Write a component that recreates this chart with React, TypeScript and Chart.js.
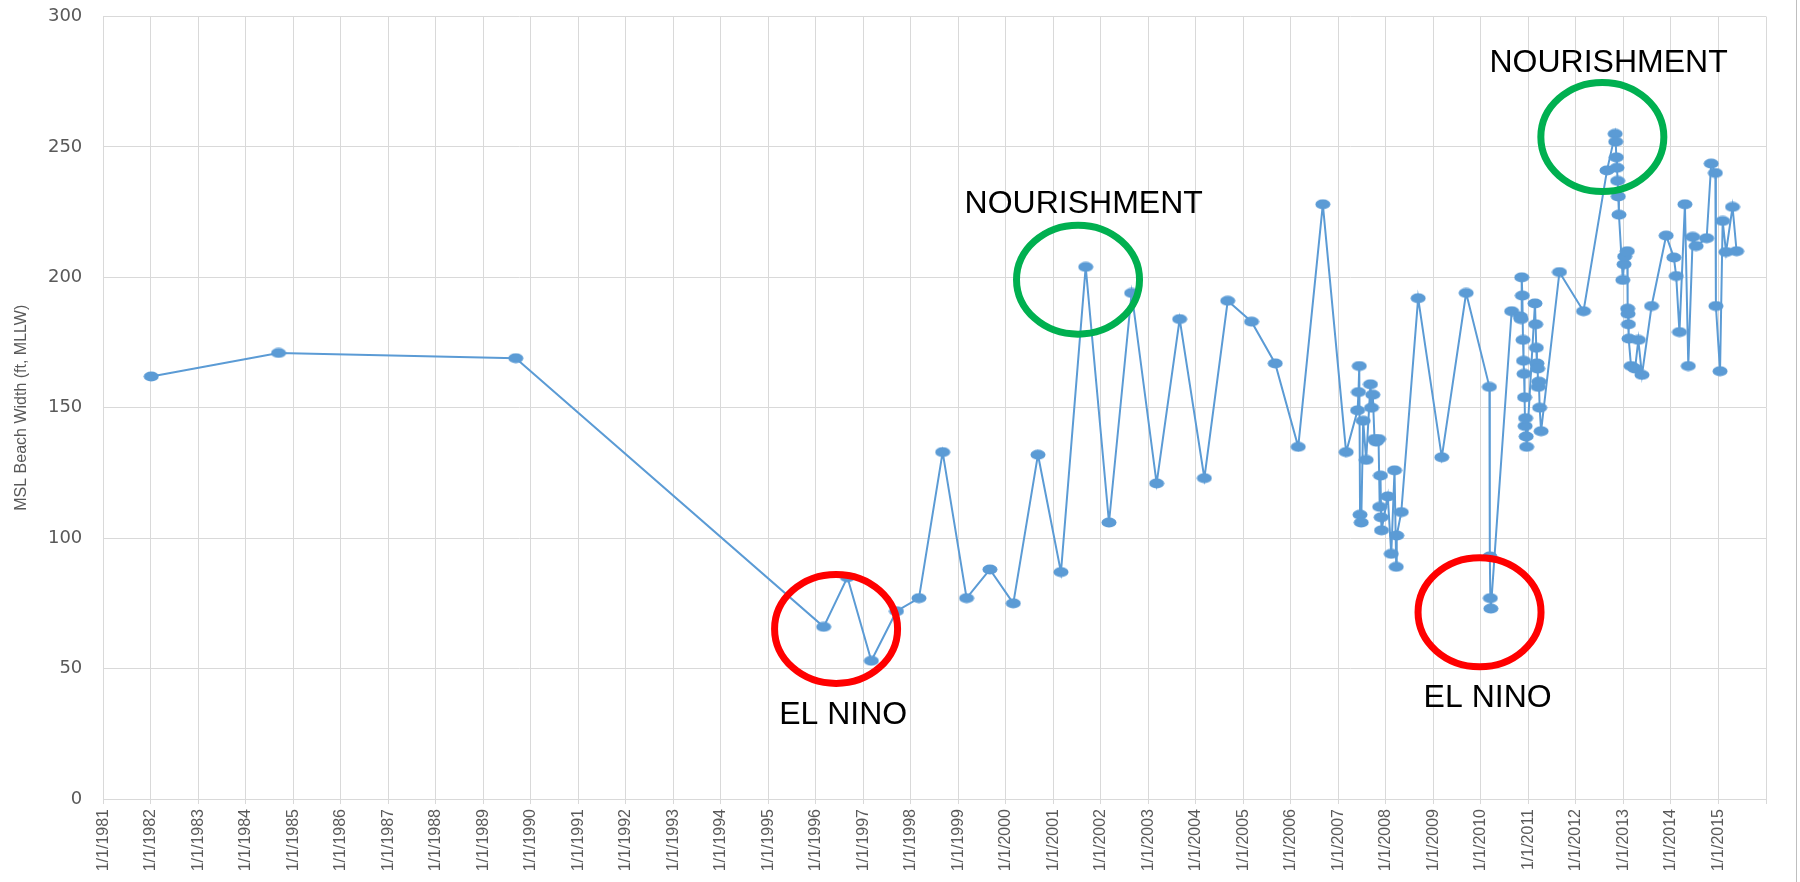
import React, { useEffect, useRef } from 'react';
import { Chart, registerables } from 'chart.js';

Chart.register(...registerables);

// ---- data ----
const surveyDates: string[] = [
  '1982-01-04', '1984-09-09', '1989-09-07',
  '1996-03-01', '1996-08-31', '1997-03-03', '1997-09-12', '1998-03-04', '1998-09-02', '1999-03-05', '1999-08-31',
  '2000-02-27', '2000-09-04', '2001-02-28', '2001-09-06', '2002-03-04', '2002-08-25', '2003-03-05', '2003-08-29',
  '2004-03-06', '2004-09-02', '2005-03-04', '2005-09-02', '2006-02-26', '2006-09-03', '2007-03-01',
  '2007-05-28', '2007-06-04', '2007-06-10', '2007-06-16', '2007-06-25', '2007-07-10', '2007-08-02', '2007-09-04',
  '2007-09-12', '2007-09-22', '2007-10-05', '2007-10-18', '2007-11-05', '2007-11-14', '2007-11-20', '2007-11-25',
  '2007-11-28', '2008-01-15', '2008-02-11', '2008-03-07', '2008-03-20', '2008-03-24', '2008-04-28',
  '2008-09-05', '2009-03-06', '2009-09-09',
  '2010-03-07', '2010-03-10', '2010-03-14', '2010-03-18', '2010-08-25',
  '2010-10-31', '2010-11-05', '2010-11-10', '2010-11-15', '2010-11-20', '2010-11-24', '2010-11-28', '2010-12-02',
  '2010-12-06', '2010-12-10', '2010-12-14', '2010-12-18', '2011-02-20', '2011-02-25', '2011-03-02', '2011-03-07',
  '2011-03-12', '2011-03-17', '2011-03-22', '2011-03-28', '2011-04-08',
  '2011-08-27', '2012-02-28', '2012-08-27',
  '2012-10-29', '2012-11-02', '2012-11-07', '2012-11-12', '2012-11-17', '2012-11-22', '2012-11-27', '2012-12-27',
  '2013-01-05', '2013-01-10', '2013-01-30', '2013-02-02', '2013-02-05', '2013-02-08', '2013-02-12', '2013-02-28',
  '2013-03-31', '2013-04-25', '2013-05-23', '2013-08-05',
  '2013-11-25', '2014-01-23', '2014-02-10', '2014-03-07', '2014-04-18', '2014-05-14', '2014-06-17', '2014-07-13',
  '2014-10-02', '2014-11-06', '2014-12-08', '2014-12-12', '2015-01-13', '2015-02-02', '2015-02-28', '2015-04-19',
  '2015-05-20',
];

const beachWidthFt: number[] = [
  162, 171, 169,
  66, 85, 53, 72, 77, 133, 77, 88,
  75, 132, 87, 204, 106, 194, 121, 184,
  123, 191, 183, 167, 135, 228, 133,
  149, 156, 166, 109, 106, 145, 130, 159,
  150, 155, 138, 137, 138, 112, 124, 108,
  103, 116, 94, 126, 89, 101, 110,
  192, 131, 194,
  158, 93, 77, 73, 187,
  185, 184, 200, 193, 176, 168, 163, 154,
  143, 146, 139, 135, 190, 182, 173, 167,
  165, 158, 160, 150, 141,
  202, 187, 241,
  255, 252, 246, 242, 237, 231, 224, 199,
  205, 208, 210, 188, 186, 182, 176.5, 166,
  165, 176, 162.6, 189,
  216, 207.6, 200.5, 179, 228, 166, 215.5, 212,
  215, 243.6, 240, 189, 164, 221.6, 209.7, 227,
  210,
];

const xFirstYear = 1981;
const xLastYear = 2016;
const yMin = 0;
const yMax = 300;
const yStep = 50;
const yAxisTitle = 'MSL Beach Width (ft, MLLW)';

// annotation marks (in data space: fractional year, width in ft)
const ellipseYears = [1996.425, 2001.518, 2009.97, 2012.555];
const ellipseValues = [65.2, 199.1, 71.6, 253.8];
const ellipseColors = ['#FF0000', '#00B050', '#FF0000', '#00B050'];
const labelTexts = ['EL NINO', 'NOURISHMENT', 'EL NINO', 'NOURISHMENT'];
const labelYears = [1996.576, 2001.637, 2010.14, 2012.686];
const labelValues = [28.8, 224.7, 35.3, 278.7];

function toYear(s: string): number {
  const [y, m, d] = s.split('-').map(Number);
  const start = Date.UTC(y, 0, 1);
  const end = Date.UTC(y + 1, 0, 1);
  return y + (Date.UTC(y, m - 1, d) - start) / (end - start);
}

function makeMarker(): HTMLCanvasElement {
  const c = document.createElement('canvas');
  c.width = 16;
  c.height = 11;
  const g = c.getContext('2d')!;
  g.fillStyle = '#5B9BD5';
  g.beginPath();
  g.ellipse(8, 5.5, 7.5, 5, 0, 0, Math.PI * 2);
  g.fill();
  return c;
}

const annotationPlugin = {
  id: 'annotationMarks',
  afterDatasetsDraw(chart: any) {
    const { ctx, scales } = chart;
    const xs = scales.x;
    const ys = scales.y;
    ctx.save();
    ctx.lineWidth = 7;
    for (let i = 0; i < ellipseYears.length; i++) {
      const cx = xs.getPixelForValue(ellipseYears[i]);
      const cy = ys.getPixelForValue(ellipseValues[i]);
      ctx.strokeStyle = ellipseColors[i];
      ctx.beginPath();
      ctx.ellipse(cx, cy, 61.5, 54.5, 0, 0, Math.PI * 2);
      ctx.stroke();
    }
    ctx.fillStyle = '#000000';
    ctx.font = '32px "Liberation Sans", Arial, sans-serif';
    ctx.textAlign = 'center';
    ctx.textBaseline = 'alphabetic';
    for (let i = 0; i < labelTexts.length; i++) {
      ctx.fillText(labelTexts[i], xs.getPixelForValue(labelYears[i]), ys.getPixelForValue(labelValues[i]));
    }
    // outer frame edge on the right of the picture
    ctx.strokeStyle = '#bfbfbf';
    ctx.lineWidth = 1;
    ctx.beginPath();
    ctx.moveTo(1796.5, 0);
    ctx.lineTo(1796.5, chart.height);
    ctx.stroke();
    ctx.restore();
  },
};

export default function App() {
  const ref = useRef<HTMLCanvasElement | null>(null);

  useEffect(() => {
    if (!ref.current) return;
    const points = surveyDates.map((d, i) => ({ x: toYear(d), y: beachWidthFt[i] }));
    const chart = new Chart(ref.current, {
      type: 'line',
      data: {
        datasets: [
          {
            data: points,
            borderColor: '#5B9BD5',
            backgroundColor: '#5B9BD5',
            borderWidth: 2,
            pointStyle: makeMarker() as any,
            pointRadius: 5,
            tension: 0,
            fill: false,
          },
        ],
      },
      options: {
        animation: false,
        responsive: false,
        devicePixelRatio: 1,
        parsing: false as any,
        layout: { padding: { top: 16.5, right: 34, left: 0, bottom: 0 } },
        plugins: { legend: { display: false }, tooltip: { enabled: false } },
        scales: {
          x: {
            type: 'linear',
            min: xFirstYear,
            max: xLastYear,
            afterFit: (s: any) => { s.height = 83; },
            ticks: {
              stepSize: 1,
              autoSkip: false,
              maxRotation: 90,
              minRotation: 90,
              padding: 5,
              color: '#595959',
              font: { family: '"Liberation Sans", Arial, sans-serif', size: 16 },
              callback: (v: any) => (Number.isInteger(v) && v < xLastYear ? '1/1/' + v : ''),
            },
            grid: { color: '#d9d9d9', tickLength: 5, drawTicks: true, lineWidth: 1 },
            border: { color: '#d9d9d9' },
          },
          y: {
            type: 'linear',
            min: yMin,
            max: yMax,
            afterFit: (s: any) => { s.width = 103.3; },
            ticks: {
              stepSize: yStep,
              padding: 0,
              color: '#595959',
              font: { family: '"DejaVu Sans", sans-serif', size: 18 },
            },
            grid: { color: '#d9d9d9', drawTicks: true, tickLength: 21, tickColor: 'rgba(0,0,0,0)', lineWidth: 1 },
            border: { color: '#d9d9d9' },
            title: {
              display: true,
              text: yAxisTitle,
              color: '#595959',
              font: { family: '"Liberation Sans", Arial, sans-serif', size: 16 },
              padding: { top: 12, bottom: 0 },
            },
          },
        },
      },
      plugins: [annotationPlugin],
    } as any);
    return () => chart.destroy();
  }, []);

  return (
    <div style={{ position: 'fixed', left: 0, top: 0, width: 1800, height: 882, background: '#ffffff' }}>
      <canvas ref={ref} width={1800} height={882} />
    </div>
  );
}
